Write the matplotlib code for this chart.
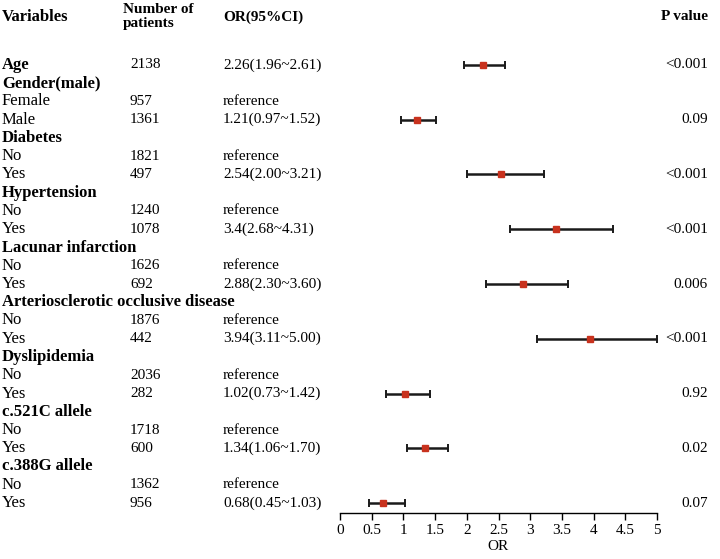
import matplotlib
matplotlib.use("Agg")
import matplotlib.pyplot as plt
import matplotlib.transforms as mtransforms
from matplotlib.ticker import FuncFormatter

plt.rcParams['font.family'] = ['Liberation Serif', 'DejaVu Serif']

# table rows (top to bottom)
labels = ['Age', 'Gender(male)', 'Female', 'Male',
          'Diabetes', 'No', 'Yes',
          'Hypertension', 'No', 'Yes',
          'Lacunar infarction', 'No', 'Yes',
          'Arteriosclerotic occlusive disease', 'No', 'Yes',
          'Dyslipidemia', 'No', 'Yes',
          'c.521C allele', 'No', 'Yes',
          'c.388G allele', 'No', 'Yes']
bold = [True, True, False, False,
        True, False, False,
        True, False, False,
        True, False, False,
        True, False, False,
        True, False, False,
        True, False, False,
        True, False, False]
n_patients = ['2138', '', '957', '1361',
              '', '1821', '497',
              '', '1240', '1078',
              '', '1626', '692',
              '', '1876', '442',
              '', '2036', '282',
              '', '1718', '600',
              '', '1362', '956']
or_text = ['2.26(1.96~2.61)', '', 'reference', '1.21(0.97~1.52)',
           '', 'reference', '2.54(2.00~3.21)',
           '', 'reference', '3.4(2.68~4.31)',
           '', 'reference', '2.88(2.30~3.60)',
           '', 'reference', '3.94(3.11~5.00)',
           '', 'reference', '1.02(0.73~1.42)',
           '', 'reference', '1.34(1.06~1.70)',
           '', 'reference', '0.68(0.45~1.03)']

# forest plot values (rows that have an estimate)
est_rows = [0, 3, 6, 9, 12, 15, 18, 21, 24]
or_vals = [2.26, 1.21, 2.54, 3.4, 2.88, 3.94, 1.02, 1.34, 0.68]
ci_lo = [1.96, 0.97, 2.00, 2.68, 2.30, 3.11, 0.73, 1.06, 0.45]
ci_hi = [2.61, 1.52, 3.21, 4.31, 3.60, 5.00, 1.42, 1.70, 1.03]
p_values = ['<0.001', '0.09', '<0.001', '<0.001', '0.006', '<0.001', '0.92', '0.02', '0.07']

W, H = 720, 559
fig = plt.figure(figsize=(W / 100, H / 100), dpi=100)

# forest axes: x 0..5 spans px 340..657, bottom axis line at px 513
row0, step = 65, 18.25
ax = fig.add_axes([340 / W, (H - 513) / H, 317 / W, 513 / H])
ax.set_xlim(0, 5)
ax.set_ylim((513 - row0) / step, -row0 / step)

err_lo = [o - l for o, l in zip(or_vals, ci_lo)]
err_hi = [h - o for o, h in zip(or_vals, ci_hi)]
ax.errorbar(or_vals, est_rows, xerr=[err_lo, err_hi], fmt='s', color='#1a1a1a',
            ecolor='#1a1a1a', elinewidth=1.8, capsize=3, capthick=1.4,
            markersize=4.5, markerfacecolor='#c8321e', markeredgecolor='#c8321e',
            clip_on=False, zorder=3)

for s in ['top', 'right', 'left']:
    ax.spines[s].set_visible(False)
ax.spines['bottom'].set_linewidth(1.0)
ax.set_yticks([])
ax.set_xticks([i * 0.5 for i in range(11)])
ax.xaxis.set_major_formatter(FuncFormatter(lambda v, p: '%g' % v))
ax.tick_params(axis='x', direction='out', length=5, width=1, labelsize=11, pad=3)
ax.set_xlabel('OR', fontsize=11, labelpad=2)
ax.patch.set_alpha(0)

# table text: x in figure fraction, y in row units
trans = mtransforms.blended_transform_factory(fig.transFigure, ax.transData)
fs_lab = 12   # first column
fs = 11       # other columns

for i, lab in enumerate(labels):
    ax.text(2 / W, i, lab, transform=trans, fontsize=fs_lab, va='center', ha='left',
            fontweight='bold' if bold[i] else 'normal', clip_on=False)
    if n_patients[i]:
        ax.text(130 / W, i, n_patients[i], transform=trans, fontsize=fs,
                va='center', ha='left', clip_on=False)
    if or_text[i]:
        ax.text(223 / W, i, or_text[i], transform=trans, fontsize=fs,
                va='center', ha='left', clip_on=False)

for r, p in zip(est_rows, p_values):
    ax.text(708 / W, r, p, transform=trans, fontsize=fs, va='center', ha='right',
            clip_on=False)

# header
hy = (17 - row0) / step
ax.text(2 / W, hy, 'Variables', transform=trans, fontsize=fs_lab, fontweight='bold',
        va='center', ha='left', clip_on=False)
ax.text(123 / W, hy, 'Number of\npatients', transform=trans, fontsize=fs,
        fontweight='bold', va='center', ha='left', linespacing=1.1, clip_on=False)
ax.text(223 / W, hy, 'OR(95%CI)', transform=trans, fontsize=fs, fontweight='bold',
        va='center', ha='left', clip_on=False)
ax.text(708 / W, hy, 'P value', transform=trans, fontsize=fs, fontweight='bold',
        va='center', ha='right', clip_on=False)

fig.savefig('out.png', dpi=100)
